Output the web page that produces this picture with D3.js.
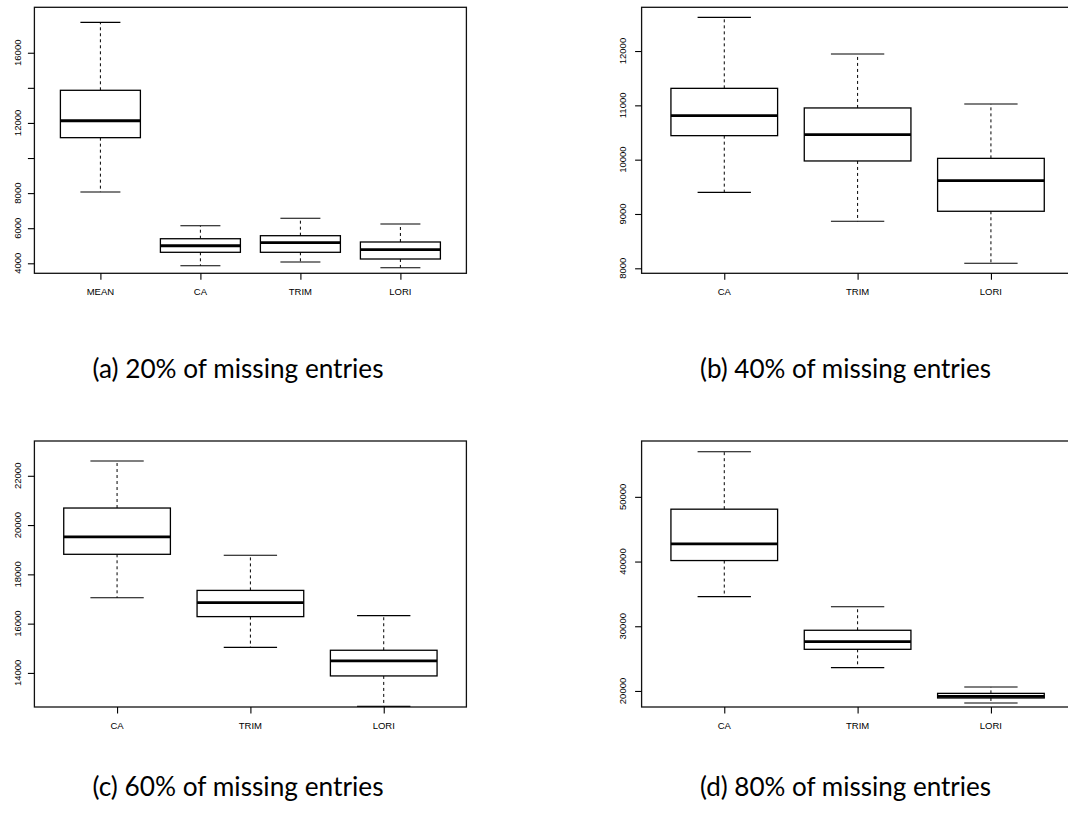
<!DOCTYPE html>
<html>
<head>
<meta charset="utf-8">
<script src="https://cdn.jsdelivr.net/npm/d3@7"></script>
<style>
  html, body { margin: 0; padding: 0; background: #fff; }
  svg { display: block; }
</style>
</head>
<body>
<svg id="chart" width="1068" height="816"></svg>
<script>
// ---------------- DATA ----------------
// Panel (a) 20% missing
const catsA   = ["MEAN", "CA", "TRIM", "LORI"];
const upperA  = [17730, 6140, 6564, 6239];
const q3A     = [13860, 5400, 5573, 5214];
const medA    = [12125, 5000, 5174, 4775];
const q1A     = [11160, 4627, 4627, 4245];
const lowerA  = [8060, 3863, 4074, 3749];
const ticksA  = [4000, 6000, 8000, 10000, 12000, 14000, 16000];
const labelsA = ["4000", "6000", "8000", "", "12000", "", "16000"];
const captionA = "(a) 20% of missing entries";

// Panel (b) 40% missing
const catsB   = ["CA", "TRIM", "LORI"];
const upperB  = [12620, 11945, 11026];
const q3B     = [11313, 10952, 10024];
const medB    = [10810, 10460, 9613];
const q1B     = [10442, 9976, 9050];
const lowerB  = [9398, 8865, 8092];
const ticksB  = [8000, 9000, 10000, 11000, 12000];
const labelsB = ["8000", "9000", "10000", "11000", "12000"];
const captionB = "(b) 40% of missing entries";

// Panel (c) 60% missing
const catsC   = ["CA", "TRIM", "LORI"];
const upperC  = [22598, 18773, 16325];
const q3C     = [20692, 17349, 14920];
const medC    = [19524, 16855, 14488];
const q1C     = [18814, 16285, 13878];
const lowerC  = [17049, 15036, 12641];
const ticksC  = [14000, 16000, 18000, 20000, 22000];
const labelsC = ["14000", "16000", "18000", "20000", "22000"];
const captionC = "(c) 60% of missing entries";

// Panel (d) 80% missing
const catsD   = ["CA", "TRIM", "LORI"];
const upperD  = [56973, 33006, 20620];
const q3D     = [48094, 29380, 19628];
const medD    = [42743, 27629, 19163];
const q1D     = [40155, 26436, 18915];
const lowerD  = [34576, 23600, 18140];
const ticksD  = [20000, 30000, 40000, 50000];
const labelsD = ["20000", "30000", "40000", "50000"];
const captionD = "(d) 80% of missing entries";

// Y-axis visible ranges (value at bottom / top of each plot frame)
const yRangeA = [3430, 18590];
const yRangeB = [7908, 12805];
const yRangeC = [12617, 23412];
const yRangeD = [17521, 58631];

// ---------------- LAYOUT ----------------
const panels = [
  { cats: catsA, up: upperA, q3: q3A, med: medA, q1: q1A, lo: lowerA, ticks: ticksA, labels: labelsA, cap: captionA, yr: yRangeA, left: 34.4, top: 7.3, lab: 17, capX: 238, capY: 369 },
  { cats: catsB, up: upperB, q3: q3B, med: medB, q1: q1B, lo: lowerB, ticks: ticksB, labels: labelsB, cap: captionB, yr: yRangeB, left: 641.6, top: 7.3, lab: 19, capX: 845.5, capY: 369 },
  { cats: catsC, up: upperC, q3: q3C, med: medC, q1: q1C, lo: lowerC, ticks: ticksC, labels: labelsC, cap: captionC, yr: yRangeC, left: 34.4, top: 441, lab: 17, capX: 238, capY: 787 },
  { cats: catsD, up: upperD, q3: q3D, med: medD, q1: q1D, lo: lowerD, ticks: ticksD, labels: labelsD, cap: captionD, yr: yRangeD, left: 641.6, top: 441, lab: 19, capX: 845.5, capY: 787 }
];
const plotW = 432, plotH = 266;
const tickLen = 6.5;
const axisFont = "'Liberation Sans', Arial, Helvetica, sans-serif";
const axisSize = 9.5;

const svg = d3.select("#chart");
svg.append("rect").attr("width", 1068).attr("height", 816).attr("fill", "#fff");

panels.forEach(p => {
  const n = p.cats.length;
  const ext = 0.04 * n;
  const x = d3.scaleLinear().domain([0.5 - ext, n + 0.5 + ext]).range([p.left, p.left + plotW]);
  const y = d3.scaleLinear().domain(p.yr).range([p.top + plotH, p.top]);
  const g = svg.append("g");

  const idx = d3.range(n);
  const pos = i => i + 1;

  // whiskers (dashed)
  g.selectAll(".wu").data(idx).join("line")
    .attr("x1", i => x(pos(i))).attr("x2", i => x(pos(i)))
    .attr("y1", i => y(p.q3[i])).attr("y2", i => y(p.up[i]))
    .attr("stroke", "#000").attr("stroke-width", 1).attr("stroke-dasharray", "3,3");
  g.selectAll(".wl").data(idx).join("line")
    .attr("x1", i => x(pos(i))).attr("x2", i => x(pos(i)))
    .attr("y1", i => y(p.q1[i])).attr("y2", i => y(p.lo[i]))
    .attr("stroke", "#000").attr("stroke-width", 1).attr("stroke-dasharray", "3,3");
  // staples
  const sw = 0.2;
  [p.up, p.lo].forEach(arr => {
    g.append("g").selectAll("line").data(idx).join("line")
      .attr("x1", i => x(pos(i) - sw)).attr("x2", i => x(pos(i) + sw))
      .attr("y1", i => y(arr[i])).attr("y2", i => y(arr[i]))
      .attr("stroke", "#000").attr("stroke-width", 1.1);
  });
  // boxes
  const bw = 0.4;
  g.append("g").selectAll("rect").data(idx).join("rect")
    .attr("x", i => x(pos(i) - bw)).attr("width", i => x(pos(i) + bw) - x(pos(i) - bw))
    .attr("y", i => y(p.q3[i])).attr("height", i => y(p.q1[i]) - y(p.q3[i]))
    .attr("fill", "#fff").attr("stroke", "#000").attr("stroke-width", 1.3);
  // medians
  g.append("g").selectAll("line").data(idx).join("line")
    .attr("x1", i => x(pos(i) - bw)).attr("x2", i => x(pos(i) + bw))
    .attr("y1", i => y(p.med[i])).attr("y2", i => y(p.med[i]))
    .attr("stroke", "#000").attr("stroke-width", 2.8);

  // frame
  g.append("rect").attr("x", p.left).attr("y", p.top).attr("width", plotW).attr("height", plotH)
    .attr("fill", "none").attr("stroke", "#111").attr("stroke-width", 1.3);

  // y axis ticks & labels
  const yAxis = d3.axisLeft(y).tickValues(p.ticks).tickSize(tickLen).tickFormat("");
  const ya = g.append("g").attr("transform", `translate(${p.left},0)`).call(yAxis);
  ya.select(".domain").remove();
  ya.selectAll(".tick line").attr("stroke", "#000").attr("stroke-width", 1.1);
  g.append("g").selectAll("text").data(p.ticks.map((t, i) => ({ t, l: p.labels[i] })).filter(d => d.l !== ""))
    .join("text")
    .attr("transform", d => `translate(${p.left - p.lab},${y(d.t)}) rotate(-90)`)
    .attr("text-anchor", "middle").attr("dy", "0.35em")
    .attr("font-family", axisFont).attr("font-size", axisSize).attr("fill", "#000")
    .text(d => d.l);

  // x axis ticks & labels
  const xAxis = d3.axisBottom(x).tickValues(idx.map(pos)).tickSize(tickLen).tickFormat("");
  const xa = g.append("g").attr("transform", `translate(0,${p.top + plotH})`).call(xAxis);
  xa.select(".domain").remove();
  xa.selectAll(".tick line").attr("stroke", "#000").attr("stroke-width", 1.1);
  g.append("g").selectAll("text").data(idx).join("text")
    .attr("x", i => x(pos(i))).attr("y", p.top + plotH + 18.7)
    .attr("dy", "0.35em").attr("text-anchor", "middle")
    .attr("font-family", axisFont).attr("font-size", axisSize).attr("fill", "#000")
    .text(i => p.cats[i]);

  // caption
  const cap = svg.append("text")
    .attr("x", p.capX).attr("y", p.capY).attr("dy", "0.33em")
    .attr("text-anchor", "middle")
    .attr("font-family", "Lato, 'Open Sans', sans-serif").attr("font-size", 26.7).attr("fill", "#000")
    .text(p.cap);
  const w = cap.node().getComputedTextLength();
  if (w > 0) cap.attr("font-size", 26.7 * 291 / w);
});
</script>
</body>
</html>
